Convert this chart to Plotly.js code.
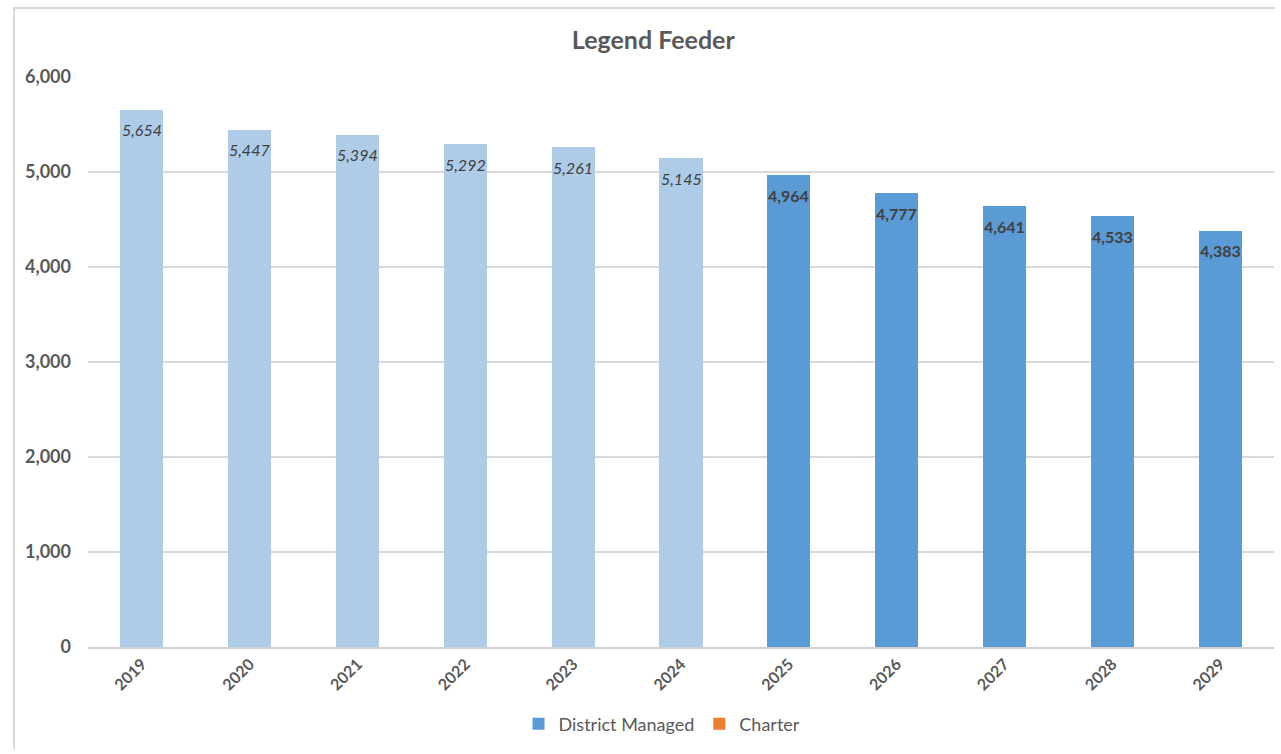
<!DOCTYPE html>
<html>
<head>
<meta charset="utf-8">
<script src="https://cdn.plot.ly/plotly-3.0.1.min.js"></script>
<style>
  html, body { margin: 0; padding: 0; background: #ffffff; overflow: hidden; }
  #frame { position: absolute; left: 13px; top: 7px; width: 1260px; height: 740px;
           border-left: 2px solid #d9d9d9; border-top: 2px solid #d9d9d9; }
  #chart { position: absolute; left: 0; top: 0; width: 1281px; height: 754px; }
</style>
</head>
<body>
<div id="frame"></div>
<div id="chart"></div>
<script>
const years = ['2019','2020','2021','2022','2023','2024','2025','2026','2027','2028','2029'];
const districtManaged = [5654, 5447, 5394, 5292, 5261, 5145, 4964, 4777, 4641, 4533, 4383];
const charter = [null, null, null, null, null, null, null, null, null, null, null];
const firstProjectedYear = '2025';

const splitIdx = years.indexOf(firstProjectedYear);
const actualYears = years.slice(0, splitIdx);
const actualVals = districtManaged.slice(0, splitIdx);
const projYears = years.slice(splitIdx);
const projVals = districtManaged.slice(splitIdx);

const fmt = v => v.toLocaleString('en-US');
const FONT = 'Lato, Carlito, Calibri, sans-serif';

const traces = [
  {
    type: 'bar', x: actualYears, y: actualVals, name: 'District Managed (actual)',
    showlegend: false, width: 0.4,
    marker: { color: '#aecbe8' },
    hoverinfo: 'x+y'
  },
  {
    type: 'bar', x: projYears, y: projVals, name: 'District Managed',
    width: 0.4,
    marker: { color: '#5b9bd5' },
    hoverinfo: 'x+y'
  },
  {
    type: 'bar', x: years, y: charter, name: 'Charter', width: 0.4,
    marker: { color: '#ed7d31' }
  }
];

// category axis: annotation x given as the category index
const annotations = years.map((yr, i) => {
  const projected = i >= splitIdx;
  return {
    x: i, y: districtManaged[i], xref: 'x', yref: 'y',
    text: fmt(districtManaged[i]), showarrow: false,
    yanchor: 'middle', yshift: -20,
    font: projected
      ? { family: FONT, size: 16, color: '#404040', weight: 'bold' }
      : { family: FONT, size: 16, color: '#404040', style: 'italic' }
  };
});

const layout = {
  width: 1281, height: 754,
  paper_bgcolor: 'rgba(0,0,0,0)', plot_bgcolor: 'rgba(0,0,0,0)',
  margin: { l: 88, r: 7, t: 77, b: 107 },
  barmode: 'stack',
  font: { family: FONT, color: '#595959' },
  title: { text: '<b>Legend Feeder</b>', x: 0.51, xanchor: 'center', y: 0.947, yanchor: 'middle',
           font: { family: FONT, size: 25, color: '#595959' } },
  xaxis: {
    type: 'category', categoryorder: 'array', categoryarray: years,
    range: [-0.5, years.length - 0.5], autorange: false,
    tickangle: -45, tickfont: { family: FONT, size: 16, color: '#595959', weight: 'bold' },
    showgrid: false, showline: true, linecolor: '#d0d0d0', linewidth: 1.5,
    ticks: '', ticklen: 0
  },
  yaxis: {
    range: [0, 6000], autorange: false, dtick: 1000, tickformat: ',d',
    tickfont: { family: FONT, size: 18, color: '#595959', weight: 'bold' },
    showgrid: true, gridcolor: '#d9d9d9', gridwidth: 1.5,
    zeroline: false, showline: false, ticks: '', ticklabelstandoff: 16
  },
  annotations: annotations,
  legend: {
    orientation: 'h', x: 0.484, xanchor: 'center', y: -0.135, yanchor: 'middle',
    font: { family: FONT, size: 18, color: '#595959' },
    traceorder: 'normal', itemwidth: 30
  },
  showlegend: true
};

Plotly.newPlot('chart', traces, layout, { displayModeBar: false, staticPlot: true });
</script>
</body>
</html>
